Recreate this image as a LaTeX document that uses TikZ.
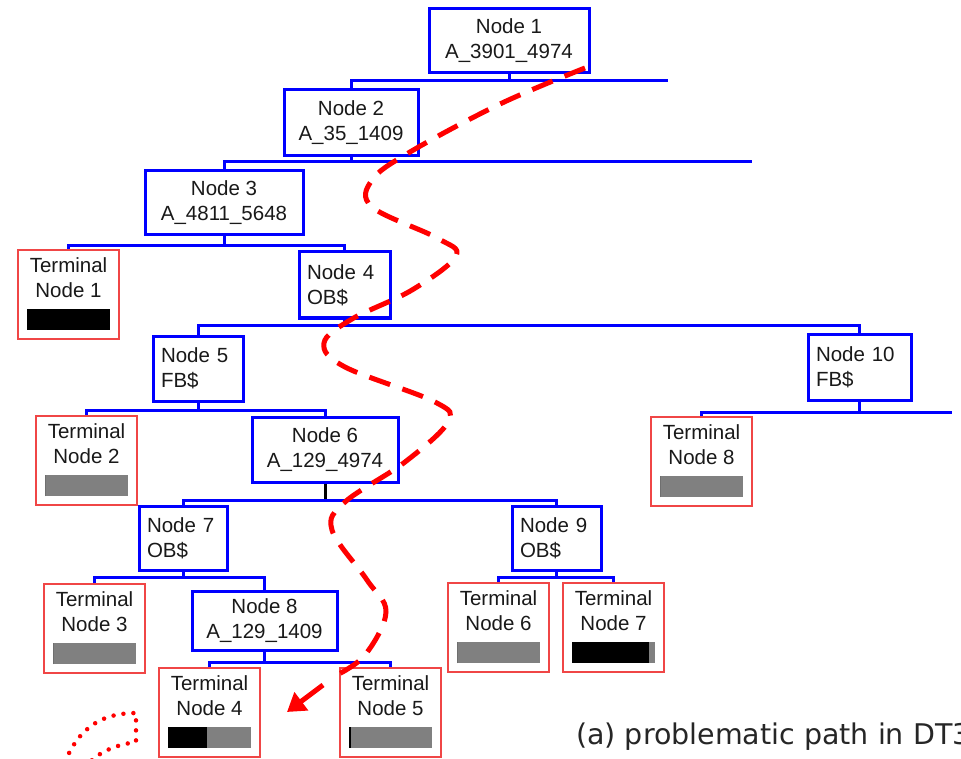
\documentclass[tikz,border=0pt]{standalone}
\usepackage{fontspec}
\setmainfont{Liberation Sans}
\newfontfamily\capfont{DejaVu Sans}
\usetikzlibrary{arrows.meta,calc}
\definecolor{tred}{RGB}{240,70,70}
\definecolor{bargray}{RGB}{128,128,128}
\newcommand\mynodefont{\fontsize{20.5}{25}\selectfont}
\tikzset{
  x=1pt, y=-1pt,
  bbox/.style={draw=blue, line width=3pt, fill=white, inner sep=0pt, align=center, font=\mynodefont, text=black!90},
  lbox/.style={align=left, inner xsep=8pt},
  tbox/.style={draw=tred, line width=2pt, fill=white, minimum width=101pt, minimum height=89pt, inner sep=0pt},
  ttext/.style={align=center, font=\mynodefont, text=black!90, inner sep=0pt},
  conn/.style={draw=blue, line width=3pt},
  redpath/.style={draw=red, line width=5pt, dash pattern=on 22pt off 13pt},
}
\newcommand\termnode[5]{%
  \node[tbox, anchor=north west] (#1) at (#2,#3) {};
  \node[ttext] (#1t) at ($(#1.north)+(0,29)$) {Terminal\\Node #4};
  \fill[bargray] ($(#1.south west)+(10,-10)$) rectangle ($(#1.south east)+(-10,-31)$);
  \fill[black] ($(#1.south west)+(10,-10)$) rectangle ($(#1.south west)+(10+#5,-31)$);
}
\begin{document}
\begin{tikzpicture}
\clip (0,0) rectangle (961,759);
\fill[white] (0,0) rectangle (961,759);

% decision nodes
\node[bbox, minimum width=160pt, minimum height=64pt] (n1) at (509,41) {Node 1\\A\_3901\_4974};
\node[bbox, minimum width=134pt, minimum height=66pt] (n2) at (351,123) {Node 2\\A\_35\_1409};
\node[bbox, minimum width=158pt, minimum height=64pt] (n3) at (224,203) {Node 3\\A\_4811\_5648};
\node[bbox, lbox, minimum width=91pt, text width=75pt, minimum height=66pt] (n4) at (344.5,285) {Node 4\\OB\$};
\node[bbox, lbox, minimum width=90pt, text width=74pt, minimum height=65pt] (n5) at (198,368.5) {Node 5\\FB\$};
\node[bbox, lbox, minimum width=103pt, text width=87pt, minimum height=66pt] (n10) at (859.5,367) {Node 10\\FB\$};
\node[bbox, minimum width=146pt, minimum height=65pt] (n6) at (325,449.5) {Node 6\\A\_129\_4974};
\node[bbox, lbox, minimum width=88pt, text width=72pt, minimum height=64pt] (n7) at (183,538) {Node 7\\OB\$};
\node[bbox, lbox, minimum width=89pt, text width=73pt, minimum height=64pt] (n9) at (556.5,538) {Node 9\\OB\$};
\node[bbox, minimum width=145pt, minimum height=59pt] (n8) at (264.5,620.5) {Node 8\\A\_129\_1409};

% terminal nodes
\termnode{t1}{17}{249}{1}{83}
\termnode{t2}{35}{415}{2}{0}
\termnode{t8}{650}{416}{8}{0}
\termnode{t3}{43}{583}{3}{0}
\termnode{t6}{447}{582}{6}{0}
\termnode{t7}{562}{582}{7}{77}
\termnode{t4}{158}{667}{4}{39}
\termnode{t5}{339}{667}{5}{2}

% connectors
\draw[conn] (n1.south) -- (n1.south |- 0,81);
\draw[conn] (n2.north) |- (668,81);
\draw[conn] (n2.south) -- (n2.south |- 0,162);
\draw[conn] (n3.north) |- (752,162);
\draw[conn] (n3.south) -- (n3.south |- 0,246);
\draw[conn] (t1.north) |- (n4.north |- 0,246) -- (n4.north);
\draw[conn] (n4.south) -- (n4.south |- 0,325);
\draw[conn] (n5.north) |- (n10.north |- 0,325) -- (n10.north);
\draw[conn] (n5.south) -- (n5.south |- 0,410);
\draw[conn] (t2.north) |- (n6.north |- 0,410) -- (n6.north);
\draw[conn] (n10.south) -- (n10.south |- 0,412);
\draw[conn] (t8.north) |- (952,412);
\draw[conn, draw=black] (n6.south) -- (n6.south |- 0,500);
\draw[conn] (n7.north) |- (n9.north |- 0,500) -- (n9.north);
\draw[conn] (n7.south) -- (n7.south |- 0,577);
\draw[conn] (t3.north) |- (n8.north |- 0,577) -- (n8.north);
\draw[conn] (n9.south) -- (n9.south |- 0,577);
\draw[conn] (t6.north) |- (t7.north |- 0,577) -- (t7.north);
\draw[conn] (n8.south) -- (n8.south |- 0,662);
\draw[conn] (t4.north) |- (t5.north |- 0,662) -- (t5.north);

% problematic path
\draw[redpath] plot[smooth, tension=0.6] coordinates {(585,68) (500,104) (410,152) (372,180) (372,207) (437,238) (456,256) (412,290) (352,319) (324,343) (345,367) (435,402) (448,422) (405,462) (345,502) (332,530) (367,580) (386,612) (365,655) (335,676)};
\coordinate (arrs) at (323,685);
\coordinate (arre) at (287,712);
\draw[red, line width=5pt, -{Triangle[length=18pt,width=22pt]}] (arrs) -- (arre);

% dotted mark
\draw[red, line width=4.5pt, line cap=round, dash pattern=on 0pt off 10pt] (65,762) .. controls (80,725) and (105,713) .. (136,713) -- (136,742) .. controls (115,745) and (100,752) .. (90,762);

% caption (cut off at the right edge, as in the reference)
\node[anchor=west, inner sep=0pt, font=\capfont\fontsize{28.5}{31}\selectfont, text=black!85] (cap) at (576,737) {(a) problematic path in DT3};
\end{tikzpicture}
\end{document}
